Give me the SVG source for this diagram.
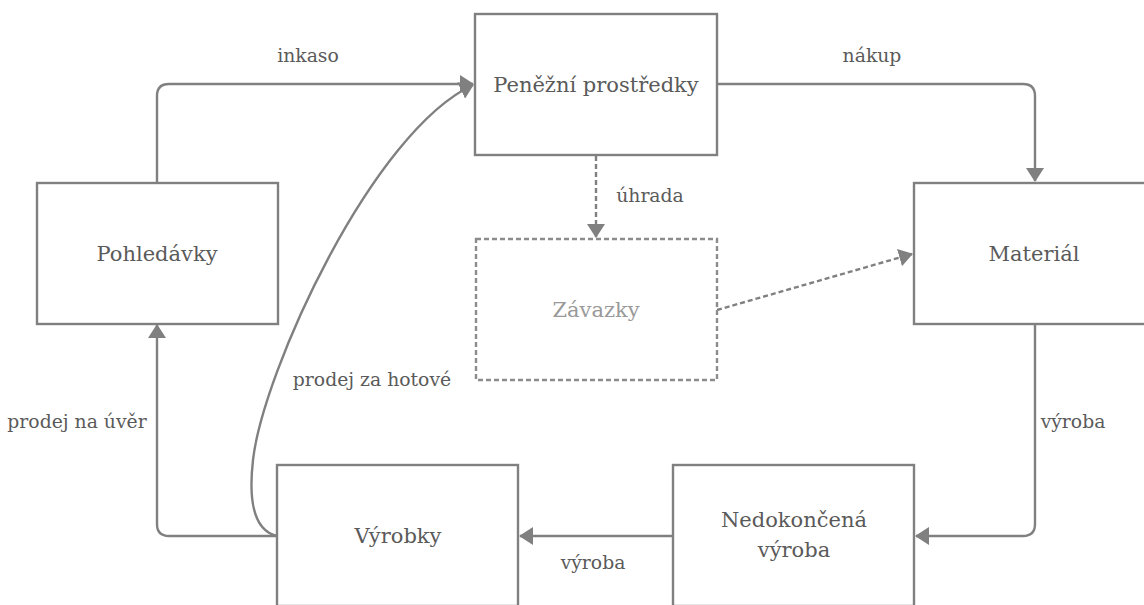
<svg xmlns="http://www.w3.org/2000/svg" width="1144" height="605" viewBox="0 0 1144 605">
<style>
.box{fill:#fff;stroke:#808080;stroke-width:2.4}
.dbox{fill:#fff;stroke:#8c8c8c;stroke-width:2.4;stroke-dasharray:5,3}
.t{font-family:"DejaVu Serif","Liberation Serif",serif;font-size:21px;fill:#5a5a5a;text-anchor:middle}
.tl{fill:#999}
.lbl{font-family:"DejaVu Serif","Liberation Serif",serif;font-size:18.8px;fill:#5a5a5a;text-anchor:middle}
.c{fill:none;stroke:#808080;stroke-width:2.4}
.d{stroke-dasharray:5,3}
</style>
<defs>
<marker id="ah" viewBox="0 0 14 18" refX="13" refY="9" markerWidth="14" markerHeight="18" markerUnits="userSpaceOnUse" orient="auto">
<path d="M0,0 L14,9 L0,18 z" fill="#808080"/>
</marker>
</defs>
<g id="connectors">
<path class="c" d="M157,183 V96 Q157,84 169,84 H473" marker-end="url(#ah)"/>
<path class="c" d="M717,84 H1023 Q1035,84 1035,96 V181" marker-end="url(#ah)"/>
<path class="c d" d="M596,156 V237" marker-end="url(#ah)"/>
<path class="c d" d="M717,310 L912,254" marker-end="url(#ah)"/>
<path class="c" d="M1035,324 V524 Q1035,536 1023,536 H916" marker-end="url(#ah)"/>
<path class="c" d="M673,536 H520" marker-end="url(#ah)"/>
<path class="c" d="M277,536 H169 Q157,536 157,524 V325" marker-end="url(#ah)"/>
<path class="c" d="M277,536 C252,530 249,495 253,460 C263,372 372,132 473,85" marker-end="url(#ah)"/>
</g>
<g id="labels">
<text class="lbl" x="308" y="62">inkaso</text>
<text class="lbl" x="872" y="62">nákup</text>
<text class="lbl" x="650" y="202">úhrada</text>
<text class="lbl" x="1073" y="428">výroba</text>
<text class="lbl" x="593" y="569">výroba</text>
<text class="lbl" x="77" y="428">prodej na úvěr</text>
<text class="lbl" x="372" y="386">prodej za hotové</text>
</g>
<g id="penezni">
<rect class="box" x="475" y="14" width="242" height="141"/>
<text class="t" x="596" y="92">Peněžní prostředky</text>
</g>
<g id="pohledavky">
<rect class="box" x="37" y="183" width="241" height="141"/>
<text class="t" x="157" y="261">Pohledávky</text>
</g>
<g id="material">
<rect class="box" x="914" y="183" width="241" height="141"/>
<text class="t" x="1034" y="261">Materiál</text>
</g>
<g id="zavazky">
<rect class="dbox" x="476" y="239" width="241" height="141"/>
<text class="t tl" x="596" y="317">Závazky</text>
</g>
<g id="vyrobky">
<rect class="box" x="277" y="465" width="241" height="141"/>
<text class="t" x="398" y="543">Výrobky</text>
</g>
<g id="nedokoncena">
<rect class="box" x="673" y="465" width="241" height="141"/>
<text class="t" x="794" y="527">Nedokončená</text>
<text class="t" x="794" y="557">výroba</text>
</g>
</svg>
